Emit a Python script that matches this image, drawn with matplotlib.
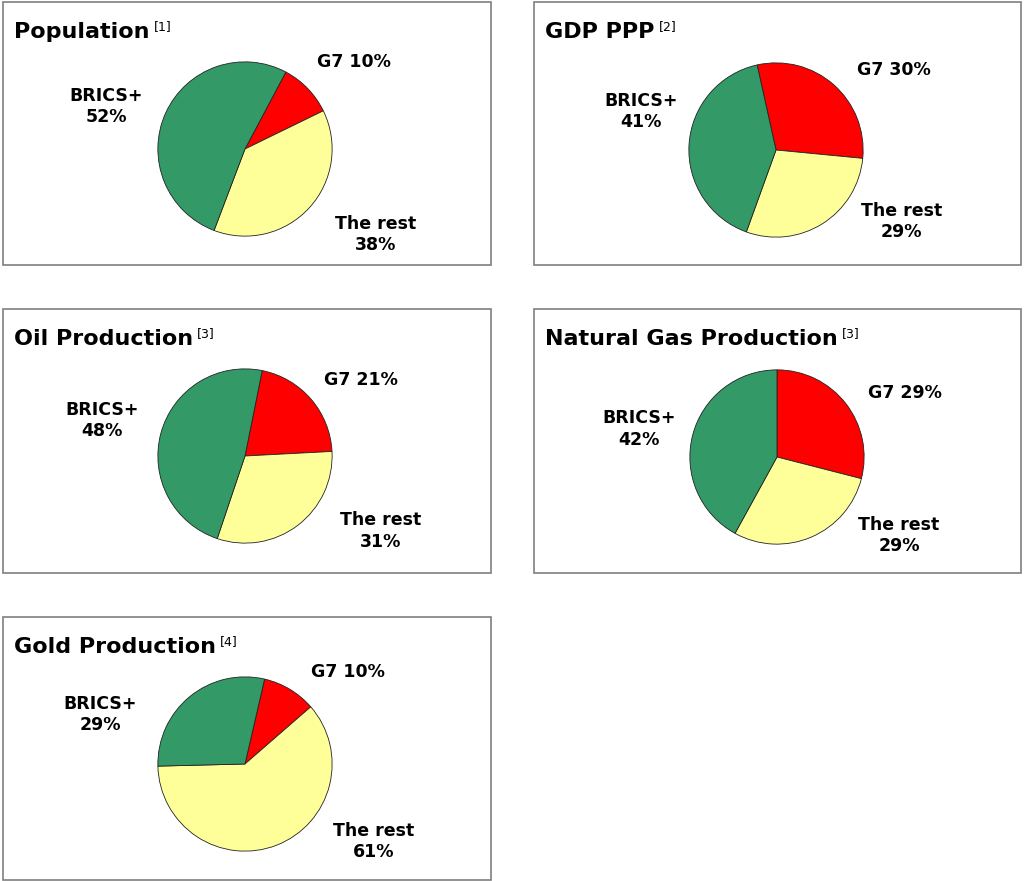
import matplotlib
matplotlib.use("Agg")
import matplotlib.pyplot as plt
from matplotlib.patches import Rectangle
from matplotlib.text import Annotation

# data: shares in percent, drawn clockwise G7 -> the rest -> BRICS+
titles = ["Population", "GDP PPP", "Oil Production", "Natural Gas Production", "Gold Production"]
refs = ["[1]", "[2]", "[3]", "[3]", "[4]"]
g7 = [10, 30, 21, 29, 10]
rest = [38, 29, 31, 29, 61]
brics = [52, 41, 48, 42, 29]

colors = ["#FF0000", "#FFFF99", "#339966"]

W, H = 1024, 881
fig = plt.figure(figsize=(W / 100, H / 100), dpi=100)
fig.patch.set_facecolor("white")
plt.rcParams["font.family"] = ["DejaVu Sans"]

# layout in pixels: box (x0, y0, x1, y1), pie centre, G7 start angle (deg clockwise from top)
boxes = [(3, 2, 491, 265), (534, 2, 1021, 265), (3, 309, 491, 573),
         (534, 309, 1021, 573), (3, 617, 491, 880)]
centres = [(245, 149), (776, 150), (245, 456), (777, 457), (245, 764)]
g7_start = [28, -12.5, 11.4, 0, 13]
R = 88
# label offsets in pie radii: (G7, rest, BRICS+)
lab_pos = [
    [(1.25, 1.0), (1.5, -0.98), (-1.59, 0.49)],
    [(1.35, 0.92), (1.44, -0.82), (-1.55, 0.44)],
    [(1.33, 0.875), (1.56, -0.86), (-1.64, 0.41)],
    [(1.47, 0.73), (1.40, -0.90), (-1.58, 0.32)],
    [(1.18, 1.06), (1.48, -0.89), (-1.66, 0.57)],
]


def fx(px):
    return px / W


def fy(py):
    return 1 - py / H


for i in range(len(titles)):
    x0, y0, x1, y1 = boxes[i]
    fig.patches.append(Rectangle((fx(x0), fy(y1)), fx(x1 - x0), (y1 - y0) / H,
                                 transform=fig.transFigure, fill=False,
                                 edgecolor="#7f7f7f", linewidth=1.2))
    t = fig.text(fx(x0 + 11), fy(y0 + 36), titles[i], fontsize=16,
                 fontweight="bold", va="baseline", ha="left")
    fig.add_artist(Annotation(refs[i], xy=(1, 1), xycoords=t, xytext=(3, 1.5),
                              textcoords="offset points", fontsize=9,
                              va="top", ha="left", annotation_clip=False))

    cx, cy = centres[i]
    ax = fig.add_axes([fx(cx - R), fy(cy + R), 2 * R / W, 2 * R / H])
    vals = [g7[i], rest[i], brics[i]]
    ax.pie(vals, colors=colors, startangle=90 - g7_start[i], counterclock=False,
           radius=1, wedgeprops=dict(edgecolor="#222222", linewidth=0.6))
    ax.set_xlim(-1.01, 1.01)
    ax.set_ylim(-1.01, 1.01)
    ax.set_aspect("equal")
    ax.axis("off")

    texts = ["G7 %d%%" % g7[i], "The rest\n%d%%" % rest[i], "BRICS+\n%d%%" % brics[i]]
    for (lx, ly), s in zip(lab_pos[i], texts):
        ax.text(lx, ly, s, fontsize=12.5, fontweight="bold", ha="center",
                va="center", linespacing=1.25, clip_on=False)

fig.savefig("out.png", dpi=100, facecolor="white")
